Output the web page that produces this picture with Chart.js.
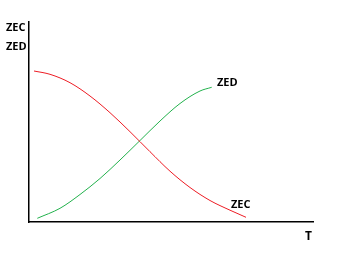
<!DOCTYPE html>
<html>
<head>
<meta charset="utf-8">
<style>
html,body{margin:0;padding:0;background:#fff;}
#c{display:block;}
</style>
<script src="https://cdn.jsdelivr.net/npm/chart.js@4"></script>
</head>
<body>
<canvas id="c" width="343" height="264"></canvas>
<script>
// Values (arbitrary units: T across, Z up)
const zecT = [5, 21, 41, 61, 81, 101, 121, 141, 161, 181, 201, 217];
const zecValues = [151, 147.7, 139.3, 126, 109.3, 90.3, 70.3, 50.8, 34.5, 21.5, 11.8, 4.7];
const zedT = [8.3, 31, 51, 71, 91, 111, 131, 151, 171, 182.7];
const zedValues = [3.7, 13.7, 27.5, 43.5, 62, 81.5, 101, 118.5, 131, 134.7];
const tRange = [0, 284];
const zRange = [0, 200];
const axisLabels = ['ZEC', 'ZED', 'T'];
const curveLabels = ['ZED', 'ZEC'];

const toPoints = (xs, ys) => xs.map((x, i) => ({x: x, y: ys[i]}));

const textPlugin = {
  id: 'texts',
  afterDraw(chart) {
    const ctx = chart.ctx;
    ctx.save();
    ctx.fillStyle = '#000';
    ctx.font = 'bold 11px "Open Sans"';
    ctx.textBaseline = 'alphabetic';
    ctx.textAlign = 'left';
    ctx.fillText(axisLabels[0], 6, 31);
    ctx.fillText(axisLabels[1], 6, 49.5);
    ctx.fillText(curveLabels[0], 217, 86);
    ctx.fillText(curveLabels[1], 231, 207.5);
    ctx.font = 'bold 12px "Open Sans"';
    ctx.fillText(axisLabels[2], 305, 240);
    ctx.restore();
  }
};

new Chart(document.getElementById('c'), {
  type: 'line',
  data: {
    datasets: [
      {
        label: 'ZEC',
        data: toPoints(zecT, zecValues),
        borderColor: '#ed1c24',
        borderWidth: 1,
        pointRadius: 0,
        cubicInterpolationMode: 'monotone',
        fill: false
      },
      {
        label: 'ZED',
        data: toPoints(zedT, zedValues),
        borderColor: '#22b14c',
        borderWidth: 1,
        pointRadius: 0,
        cubicInterpolationMode: 'monotone',
        fill: false
      }
    ]
  },
  options: {
    responsive: false,
    animation: false,
    devicePixelRatio: 1,
    layout: {padding: {left: 29, right: 30, top: 22, bottom: 42}},
    plugins: {legend: {display: false}, tooltip: {enabled: false}},
    scales: {
      x: {
        type: 'linear',
        min: tRange[0], max: tRange[1],
        ticks: {display: false},
        grid: {display: false, drawTicks: false},
        border: {display: true, color: '#000', width: 1.5}
      },
      y: {
        type: 'linear',
        min: zRange[0], max: zRange[1],
        ticks: {display: false},
        grid: {display: false, drawTicks: false},
        border: {display: true, color: '#000', width: 1.5}
      }
    }
  },
  plugins: [textPlugin]
});
</script>
</body>
</html>
